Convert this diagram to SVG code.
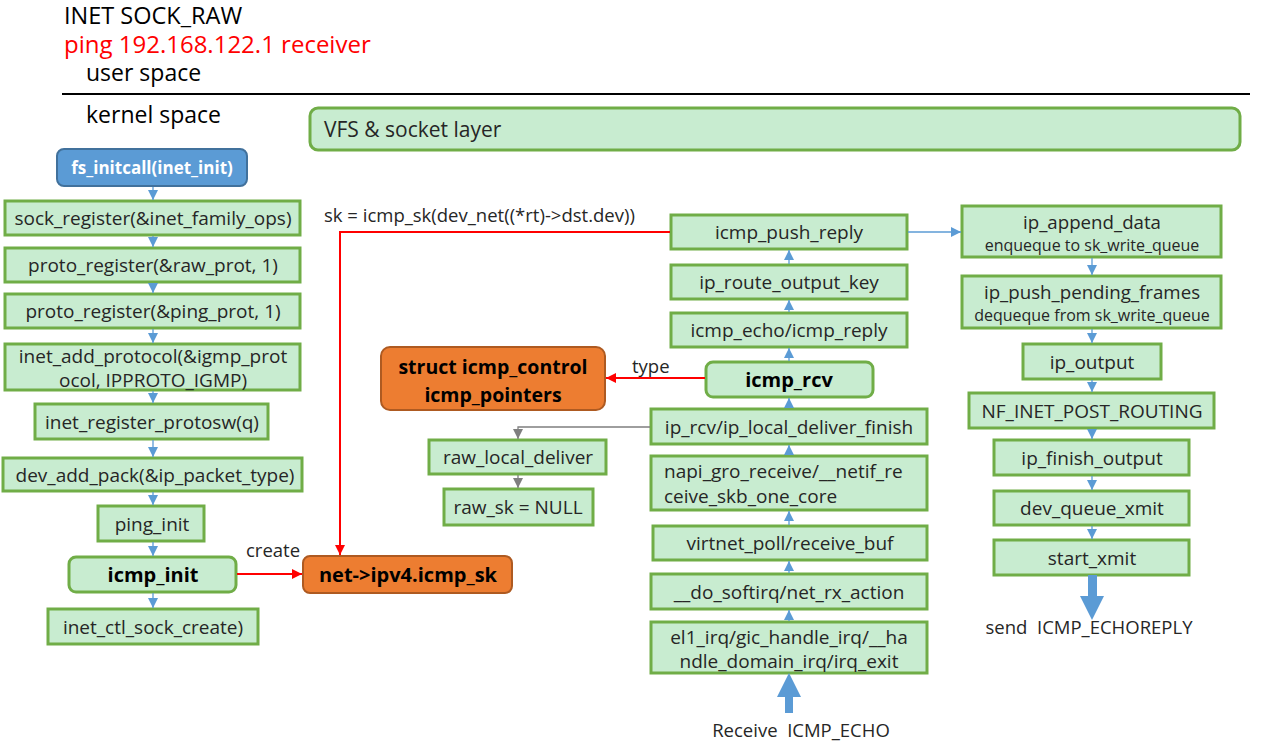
<svg xmlns="http://www.w3.org/2000/svg" width="1262" height="748" viewBox="0 0 1262 748">
<defs>
<marker id="ab" viewBox="0 0 10 10" refX="10" refY="5" markerWidth="10" markerHeight="10" markerUnits="userSpaceOnUse" orient="auto"><path d="M0,0 L10,5 L0,10 z" fill="#5b9bd5"/></marker>
<marker id="ar" viewBox="0 0 10 10" refX="10" refY="5" markerWidth="10" markerHeight="10" markerUnits="userSpaceOnUse" orient="auto"><path d="M0,0 L10,5 L0,10 z" fill="#ff0000"/></marker>
<marker id="ag" viewBox="0 0 10 10" refX="10" refY="5" markerWidth="10" markerHeight="10" markerUnits="userSpaceOnUse" orient="auto"><path d="M0,0 L10,5 L0,10 z" fill="#7f7f7f"/></marker>
</defs>
<style>
text{font-family:"Open Sans","Noto Sans",sans-serif;fill:#262626;white-space:pre;}
.g{fill:#c8ecd0;stroke:#70ad47;stroke-width:3;}
.o{fill:#ed7d31;stroke:#ae5a21;stroke-width:2;}
.b{fill:#5b9bd5;stroke:#41719c;stroke-width:2;}
.t{font-size:19px;text-anchor:middle;}
.s{font-size:16px;text-anchor:middle;}
.bd{font-weight:bold;fill:#000;font-size:20px;}
.cb{stroke:#5b9bd5;stroke-width:1.3;fill:none;marker-end:url(#ab);}
.cr{stroke:#ff0000;stroke-width:2;fill:none;marker-end:url(#ar);}
.cg{stroke:#7f7f7f;stroke-width:1.3;fill:none;marker-end:url(#ag);}
.h{font-size:24px;}
.l{font-size:18.5px;}
</style>
<g id="header">
<text x="64" y="24" class="h" style="fill:#000;font-size:23.5px">INET SOCK_RAW</text>
<text x="64" y="53" class="h" style="fill:#ff0000">ping 192.168.122.1 receiver</text>
<text x="86" y="81" class="h" style="fill:#000;font-size:23px">user space</text>
<line x1="62" y1="94" x2="1250" y2="94" stroke="#000" stroke-width="2"/>
<text x="86" y="123" class="h" style="fill:#000;font-size:23px">kernel space</text>
</g>
<g id="vfs"><rect x="310" y="108" width="930" height="42" rx="8" class="g" stroke-width="2"/><text x="324" y="137" style="font-size:21px">VFS &amp; socket layer</text></g>
<g id="fs_initcall"><rect x="57" y="149" width="190" height="37" rx="7" class="b"/><text x="152" y="174" class="t bd" style="fill:#fff;font-size:17px">fs_initcall(inet_init)</text></g>
<g id="sock_register"><rect x="5" y="201" width="295" height="34" class="g"/><text x="153" y="225" class="t">sock_register(&amp;inet_family_ops)</text></g>
<g id="proto_register_raw"><rect x="5" y="248" width="295" height="34" class="g"/><text x="153" y="272" class="t">proto_register(&amp;raw_prot, 1)</text></g>
<g id="proto_register_ping"><rect x="5" y="294" width="295" height="34" class="g"/><text x="153" y="318" class="t">proto_register(&amp;ping_prot, 1)</text></g>
<g id="inet_add_protocol"><rect x="5" y="344" width="295" height="46" class="g"/><text x="153" y="363" class="t">inet_add_protocol(&amp;igmp_prot</text><text x="153" y="387" class="t">ocol, IPPROTO_IGMP)</text></g>
<g id="inet_register_protosw"><rect x="35" y="404" width="233" height="35" class="g"/><text x="152" y="429" class="t">inet_register_protosw(q)</text></g>
<g id="dev_add_pack"><rect x="3" y="458" width="299" height="33" class="g"/><text x="155" y="482" class="t">dev_add_pack(&amp;ip_packet_type)</text></g>
<g id="ping_init"><rect x="98" y="506" width="106" height="35" class="g"/><text x="152" y="531" class="t">ping_init</text></g>
<g id="icmp_init"><rect x="69" y="557" width="167" height="35" rx="7" class="g" stroke-width="2.5"/><text x="153" y="582" class="t bd">icmp_init</text></g>
<g id="inet_ctl_sock_create"><rect x="48" y="609" width="210" height="35" class="g"/><text x="153" y="634" class="t">inet_ctl_sock_create)</text></g>
<g id="net_ipv4_icmp_sk"><rect x="303" y="556" width="209" height="37" rx="7" class="o"/><text x="408" y="582" class="t bd">net-&gt;ipv4.icmp_sk</text></g>
<g id="icmp_control"><rect x="381" y="347" width="224" height="63" rx="9" class="o"/><text x="493" y="374" class="t bd" style="font-size:19.5px">struct icmp_control</text><text x="493" y="402" class="t bd" style="font-size:19.5px">icmp_pointers</text></g>
<g id="raw_local_deliver"><rect x="429" y="440" width="177" height="34" class="g"/><text x="518" y="464" class="t">raw_local_deliver</text></g>
<g id="raw_sk_null"><rect x="444" y="489" width="149" height="36" class="g"/><text x="518" y="514" class="t">raw_sk = NULL</text></g>
<g id="icmp_push_reply"><rect x="671" y="215" width="236" height="34" class="g"/><text x="789" y="239" class="t">icmp_push_reply</text></g>
<g id="ip_route_output_key"><rect x="671" y="265" width="236" height="34" class="g"/><text x="789" y="289" class="t">ip_route_output_key</text></g>
<g id="icmp_echo"><rect x="671" y="313" width="236" height="34" class="g"/><text x="789" y="337" class="t">icmp_echo/icmp_reply</text></g>
<g id="icmp_rcv"><rect x="706" y="362" width="167" height="35" rx="7" class="g" stroke-width="2.5"/><text x="789" y="387" class="t bd">icmp_rcv</text></g>
<g id="ip_rcv"><rect x="651" y="409" width="276" height="35" class="g"/><text x="789" y="434" class="t">ip_rcv/ip_local_deliver_finish</text></g>
<g id="napi_gro_receive"><rect x="651" y="456" width="276" height="54" class="g"/><text x="664" y="478" style="font-size:19px">napi_gro_receive/__netif_re</text><text x="664" y="503" style="font-size:19px">ceive_skb_one_core</text></g>
<g id="virtnet_poll"><rect x="653" y="526" width="274" height="34" class="g"/><text x="790" y="550" class="t">virtnet_poll/receive_buf</text></g>
<g id="do_softirq"><rect x="651" y="574" width="276" height="35" class="g"/><text x="789" y="599" class="t">__do_softirq/net_rx_action</text></g>
<g id="el1_irq"><rect x="651" y="622" width="276" height="51" class="g"/><text x="789" y="644" class="t">el1_irq/gic_handle_irq/__ha</text><text x="789" y="668" class="t">ndle_domain_irq/irq_exit</text></g>
<g id="receive_echo"><path d="M785,713 L785,697 L777,697 L789,673 L801,697 L793,697 L793,713 z" fill="#5b9bd5"/><text x="801" y="737" class="t" style="font-size:18.5px">Receive  ICMP_ECHO</text></g>
<g id="ip_append_data"><rect x="962" y="206" width="259" height="51" class="g"/><text x="1092" y="229" class="t" style="font-size:18.7px">ip_append_data</text><text x="1092" y="251" class="s">enqueque to sk_write_queue</text></g>
<g id="ip_push_pending_frames"><rect x="962" y="276" width="259" height="52" class="g"/><text x="1092" y="299" class="t" style="font-size:18.7px">ip_push_pending_frames</text><text x="1092" y="321" class="s">dequeque from sk_write_queue</text></g>
<g id="ip_output"><rect x="1023" y="344" width="138" height="35" class="g"/><text x="1092" y="369" class="t">ip_output</text></g>
<g id="nf_inet_post_routing"><rect x="969" y="393" width="245" height="35" class="g"/><text x="1092" y="418" class="t">NF_INET_POST_ROUTING</text></g>
<g id="ip_finish_output"><rect x="994" y="440" width="195" height="35" class="g"/><text x="1092" y="465" class="t">ip_finish_output</text></g>
<g id="dev_queue_xmit"><rect x="994" y="491" width="195" height="34" class="g"/><text x="1092" y="515" class="t">dev_queue_xmit</text></g>
<g id="start_xmit"><rect x="994" y="540" width="195" height="35" class="g"/><text x="1092" y="565" class="t">start_xmit</text></g>
<g id="send_echoreply"><path d="M1088,575 L1097,575 L1097,596 L1104,596 L1092,620 L1080,596 L1088,596 z" fill="#5b9bd5"/><text x="1089" y="634" class="t" style="font-size:18.5px">send  ICMP_ECHOREPLY</text></g>
<g id="connectors">
<line x1="153" y1="187" x2="153" y2="200" class="cb"/>
<line x1="153" y1="236" x2="153" y2="247" class="cb"/>
<line x1="153" y1="283" x2="153" y2="293" class="cb"/>
<line x1="153" y1="329" x2="153" y2="343" class="cb"/>
<line x1="153" y1="391" x2="153" y2="403" class="cb"/>
<line x1="153" y1="440" x2="153" y2="457" class="cb"/>
<line x1="153" y1="492" x2="153" y2="505" class="cb"/>
<line x1="153" y1="542" x2="153" y2="556" class="cb"/>
<line x1="153" y1="593" x2="153" y2="608" class="cb"/>
<line x1="237" y1="574" x2="302" y2="574" class="cr"/>
<text x="246" y="557" class="l">create</text>
<polyline points="670,232 340,232 340,555" class="cr"/>
<text x="324" y="222" class="l">sk = icmp_sk(dev_net((*rt)-&gt;dst.dev))</text>
<line x1="705" y1="378" x2="606" y2="378" class="cr"/>
<text x="632" y="373" class="l">type</text>
<polyline points="650,427 518,427 518,439" class="cg"/>
<line x1="518" y1="475" x2="518" y2="488" class="cg"/>
<line x1="789" y1="264" x2="789" y2="250" class="cb"/>
<line x1="789" y1="312" x2="789" y2="300" class="cb"/>
<line x1="789" y1="361" x2="789" y2="348" class="cb"/>
<line x1="789" y1="408" x2="789" y2="398" class="cb"/>
<line x1="789" y1="455" x2="789" y2="445" class="cb"/>
<line x1="789" y1="525" x2="789" y2="511" class="cb"/>
<line x1="789" y1="573" x2="789" y2="561" class="cb"/>
<line x1="789" y1="621" x2="789" y2="610" class="cb"/>
<line x1="908" y1="232" x2="961" y2="232" class="cb"/>
<line x1="1092" y1="258" x2="1092" y2="275" class="cb"/>
<line x1="1092" y1="329" x2="1092" y2="343" class="cb"/>
<line x1="1092" y1="380" x2="1092" y2="392" class="cb"/>
<line x1="1092" y1="429" x2="1092" y2="439" class="cb"/>
<line x1="1092" y1="476" x2="1092" y2="490" class="cb"/>
<line x1="1092" y1="526" x2="1092" y2="539" class="cb"/>
</g>
</svg>
